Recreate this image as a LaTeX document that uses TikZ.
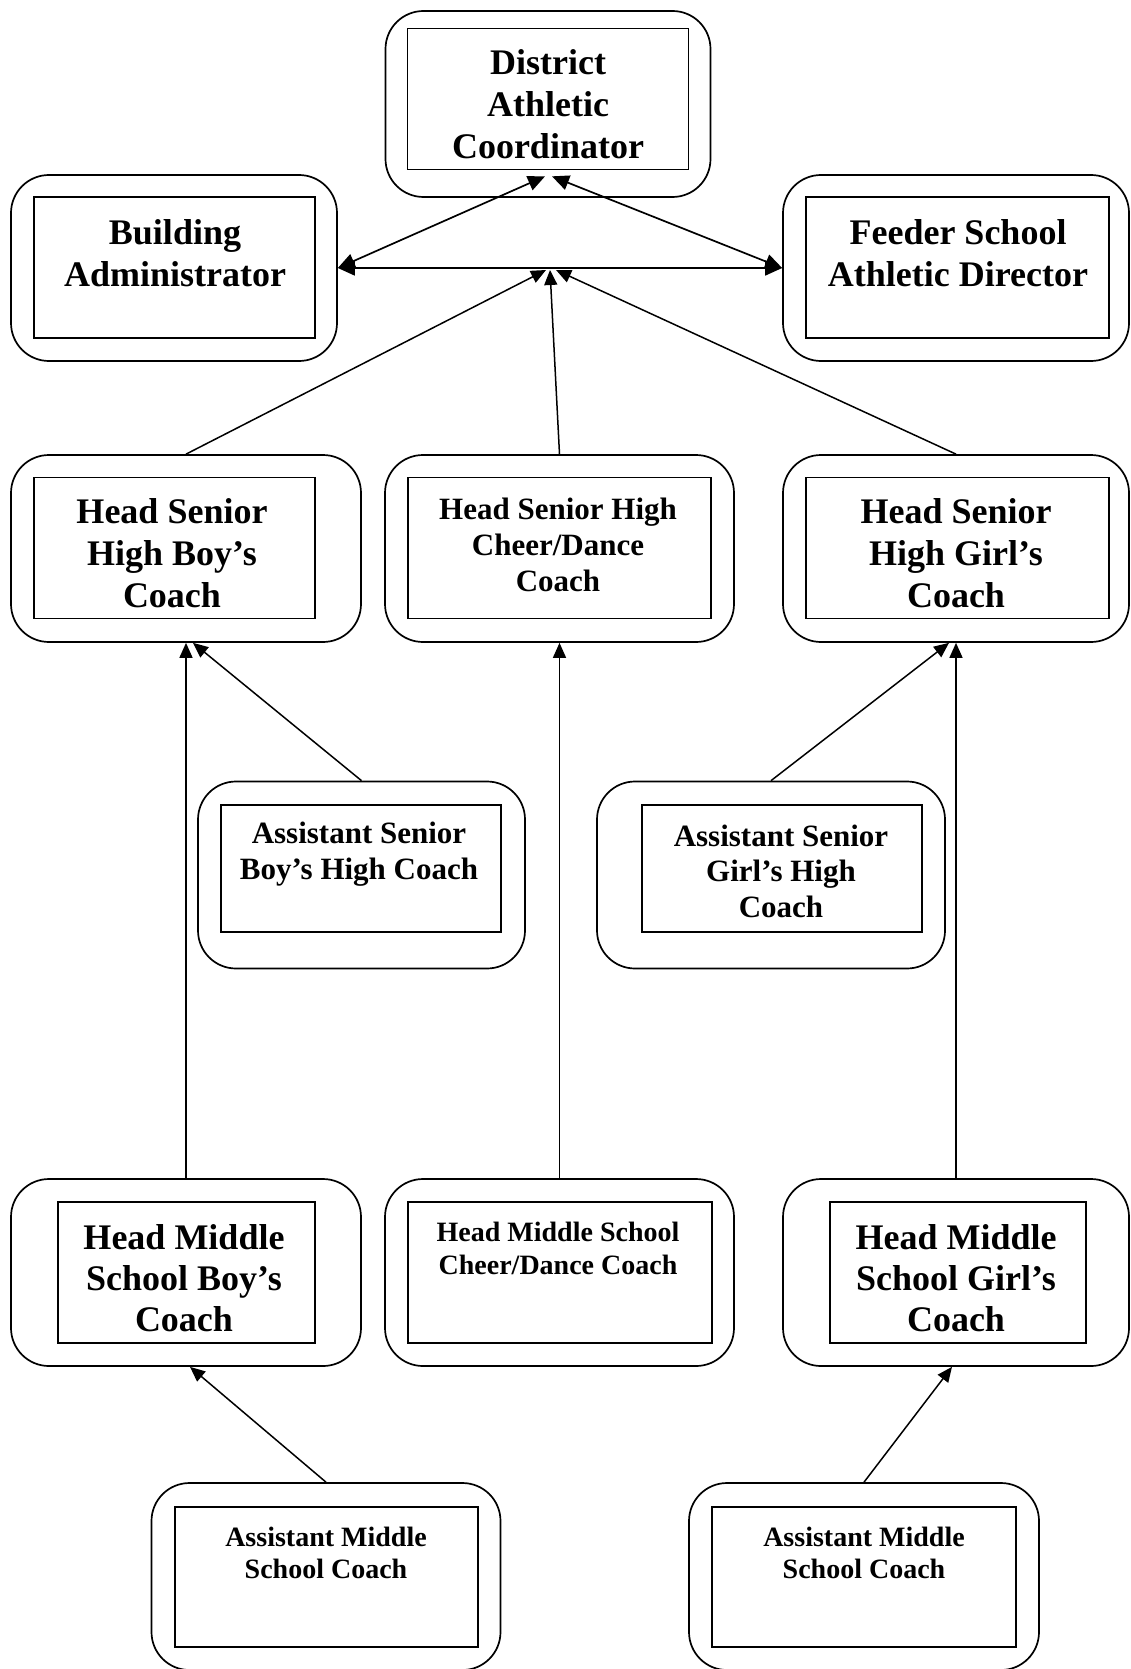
\documentclass[tikz,border=0pt]{standalone}
\usepackage{fontspec}
\setmainfont{Liberation Serif}
\usetikzlibrary{arrows.meta}

\begin{document}
\begin{tikzpicture}
        [x=1pt,y=-1pt,>={Triangle[length=15pt,width=13pt]},
        outer/.style={draw,line width=1.7pt,rounded corners=38pt,inner sep=0pt},
        inner/.style={draw,line width=1.7pt,inner sep=0pt},
        big/.style={align=center,font=\fontsize{36}{42}\selectfont\bfseries},
        mid/.style={align=center,font=\fontsize{31}{36}\selectfont\bfseries},
        small/.style={align=center,font=\fontsize{28}{33}\selectfont\bfseries},
        wide/.style={>={Triangle[length=17pt,width=15pt]},line width=1.7pt}]
        \useasboundingbox (0,0) rectangle (1131,1669);

        % top row
        \node[outer,minimum width=325pt,minimum height=186pt] (dac) at (548,104) {};
        \node[inner,minimum width=281pt,minimum height=141pt] (dacin) at (548,99) {};
        \node[big] (dact) at (548,104) {District\\Athletic\\Coordinator};

        \node[outer,minimum width=326pt,minimum height=186pt] (ba) at (174,268) {};
        \node[inner,minimum width=281pt,minimum height=141pt] (bain) at (174.5,267.5) {};
        \node[big] (bat) at (175,253) {Building\\Administrator};

        \node[outer,minimum width=346pt,minimum height=186pt] (fsad) at (956,268) {};
        \node[inner,minimum width=303pt,minimum height=141pt] (fsadin) at (957.5,267.5) {};
        \node[big] (fsadt) at (958,253) {Feeder School\\Athletic Director};

        % head senior high
        \node[outer,minimum width=350pt,minimum height=187pt] (hsb) at (186,548.5) {};
        \node[inner,minimum width=281pt,minimum height=141pt] (hsbin) at (174.5,548) {};
        \node[big] (hsbt) at (172,553) {Head Senior\\High Boy's\\Coach};

        \node[outer,minimum width=349pt,minimum height=187pt] (hsc) at (559.5,548.5) {};
        \node[inner,minimum width=303pt,minimum height=141pt] (hscin) at (559.5,548) {};
        \node[mid] (hsct) at (558,545) {Head Senior High\\Cheer/Dance\\Coach};

        \node[outer,minimum width=346pt,minimum height=187pt] (hsg) at (956,548.5) {};
        \node[inner,minimum width=303pt,minimum height=141pt] (hsgin) at (957.5,548) {};
        \node[big] (hsgt) at (956,553) {Head Senior\\High Girl's\\Coach};

        % assistant senior high
        \node[outer,minimum width=327pt,minimum height=187pt] (asb) at (361.5,875) {};
        \node[inner,minimum width=280pt,minimum height=127pt] (asbin) at (361,868.5) {};
        \node[mid] (asbt) at (359,854) {Assistant Senior\\Boy's High Coach};

        \node[outer,minimum width=348pt,minimum height=187pt] (asg) at (771,875) {};
        \node[inner,minimum width=280pt,minimum height=127pt] (asgin) at (782,868.5) {};
        \node[mid,font=\fontsize{31}{35.5}\selectfont\bfseries] (asgt) at (781,871) {Assistant Senior\\Girl's High\\Coach};

        % head middle school
        \node[outer,minimum width=350pt,minimum height=187pt] (hmb) at (186,1272.5) {};
        \node[inner,minimum width=257pt,minimum height=141pt] (hmbin) at (186.5,1272.5) {};
        \node[big,font=\fontsize{36}{41}\selectfont\bfseries] (hmbt) at (184,1278) {Head Middle\\School Boy's\\Coach};

        \node[outer,minimum width=349pt,minimum height=187pt] (hmc) at (559.5,1272.5) {};
        \node[inner,minimum width=304pt,minimum height=141pt] (hmcin) at (560,1272.5) {};
        \node[small] (hmct) at (558,1248.5) {Head Middle School\\Cheer/Dance Coach};

        \node[outer,minimum width=346pt,minimum height=187pt] (hmg) at (956,1272.5) {};
        \node[inner,minimum width=256pt,minimum height=141pt] (hmgin) at (958,1272.5) {};
        \node[big,font=\fontsize{36}{41}\selectfont\bfseries] (hmgt) at (956,1278) {Head Middle\\School Girl's\\Coach};

        % assistant middle school
        \node[outer,minimum width=349pt,minimum height=187pt] (aml) at (326,1576.5) {};
        \node[inner,minimum width=303pt,minimum height=140pt] (amlin) at (326.5,1577) {};
        \node[small,font=\fontsize{28}{32}\selectfont\bfseries] (amlt) at (326,1553) {Assistant Middle\\School Coach};

        \node[outer,minimum width=350pt,minimum height=187pt] (amr) at (864,1576.5) {};
        \node[inner,minimum width=304pt,minimum height=140pt] (amrin) at (864,1577) {};
        \node[small,font=\fontsize{28}{32}\selectfont\bfseries] (amrt) at (864,1553) {Assistant Middle\\School Coach};

        \coordinate (hub) at (550,270);

        \draw[<->,wide] ([xshift=-3pt,yshift=-6pt]dacin.south) -- (ba.east);
        \draw[<->,wide] ([xshift=4pt,yshift=-6pt]dacin.south) -- (fsad.west);
        \draw[<->,wide] (ba.east) -- (fsad.west);

        \draw[->,line width=1.5pt] (hsb.north) -- ([xshift=-4pt]hub);
        \draw[->,line width=1.5pt] (hsc.north) -- (hub);
        \draw[->,line width=1.5pt] (hsg.north) -- ([xshift=6pt]hub);

        \foreach \from/\to in {hmb/hsb,hmc/hsc,hmg/hsg}
        \draw[->,line width=1.5pt] (\from.north) -- (\to.south);

        \draw[->,line width=1.5pt] (asb.north) -- ([xshift=7pt]hsb.south);
        \draw[->,line width=1.5pt] (asg.north) -- ([xshift=-7pt]hsg.south);
        \draw[->,line width=1.5pt] (aml.north) -- ([xshift=4pt]hmb.south);
        \draw[->,line width=1.5pt] (amr.north) -- ([xshift=-4pt]hmg.south);
\end{tikzpicture}
\end{document}
